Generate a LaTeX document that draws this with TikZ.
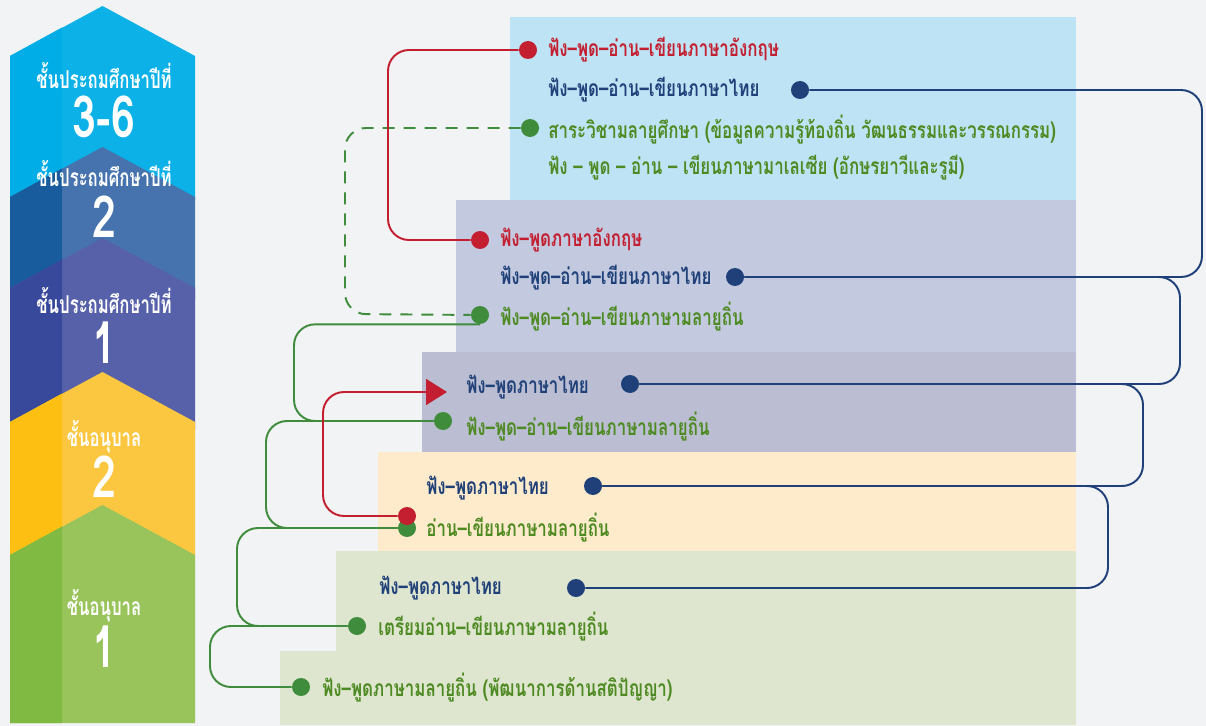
\documentclass[tikz,border=0pt]{standalone}
\usepackage{fontspec}
\newfontfamily\thai[Script=Thai,FakeStretch=0.74]{Loma}
\newfontfamily\thaigrade[Script=Thai,FakeStretch=0.68]{Loma}
\usetikzlibrary{arrows.meta}

\definecolor{bgGray}{HTML}{F2F3F4}
\definecolor{lineRed}{HTML}{C41F30}
\definecolor{lineNavy}{HTML}{1F4079}
\definecolor{lineGreen}{HTML}{3F8C3C}
\definecolor{txtGreen}{HTML}{4E8A22}
\definecolor{pBlue}{HTML}{BEE3F4}
\definecolor{pLav}{HTML}{C3CAE0}
\definecolor{pGray}{HTML}{BBBED2}
\definecolor{pOrange}{HTML}{FEEBCB}
\definecolor{pGreen}{HTML}{DFE6CF}
\definecolor{cCyanL}{HTML}{00ADE6}
\definecolor{cCyanR}{HTML}{0BB1E7}
\definecolor{cBlueL}{HTML}{195C9E}
\definecolor{cBlueR}{HTML}{4673AE}
\definecolor{cPurpL}{HTML}{38489B}
\definecolor{cPurpR}{HTML}{5661A9}
\definecolor{cYellL}{HTML}{FDBF12}
\definecolor{cYellR}{HTML}{FCC740}
\definecolor{cGreenL}{HTML}{80BA42}
\definecolor{cGreenR}{HTML}{98C45B}

% chevron: [left colour, right colour](peak y:bottom y)
\def\chevron[#1,#2](#3:#4){
  \fill[#2] (10,#3+50) -- (102.5,#3) -- (195,#3+50) -- (195,#4) -- (10,#4) -- cycle;
  \fill[#1] (10,#3+50) -- (62,#3+21.5) -- (62,#4) -- (10,#4) -- cycle;
}

\begin{document}
\begin{tikzpicture}[x=0.02cm,y=-0.02cm,
    item/.style={anchor=west,inner sep=0pt,font=\thai\bfseries\fontsize{13}{15}\selectfont},
    bullet/.style={circle,fill=#1,inner sep=0pt,minimum size=0.36cm},
    link/.style={line width=1.1pt,rounded corners=0.42cm,draw=#1},
    grade/.style={text=white,inner sep=0pt,font=\thaigrade\bfseries\fontsize{14}{16}\selectfont},
    gnum/.style={text=white,inner sep=0pt,font=\thai\bfseries\fontsize{33}{35}\selectfont}]

  \useasboundingbox (0,0) rectangle (1206,726);
  \fill[bgGray] (0,0) rectangle (1206,726);

  %%%%% panels %%%%%
  \fill[pBlue] (510,17) rectangle (1076,200);
  \fill[pLav] (456,200) rectangle (1076,352);
  \fill[pGray] (422,352) rectangle (1076,452);
  \fill[pOrange] (378,452) rectangle (1076,551);
  \fill[pGreen] (336,551) rectangle (1076,725);
  \fill[pGreen] (280,651) rectangle (336,725);

  %%%%% grades %%%%%
  \chevron[cCyanL,cCyanR](6:200)
  \chevron[cBlueL,cBlueR](147:300)
  \chevron[cPurpL,cPurpR](238:430)
  \chevron[cYellL,cYellR](372:560)
  \chevron[cGreenL,cGreenR](505:723)

  \node[grade] (gP3) at (104,76) {ชั้นประถมศึกษาปีที่};
  \node[gnum] (nP3) at (104,117) {3-6};
  \node[grade] (gP2) at (104,174) {ชั้นประถมศึกษาปีที่};
  \node[gnum] (nP2) at (104,217) {2};
  \node[grade] (gP1) at (104,301) {ชั้นประถมศึกษาปีที่};
  \node[gnum] (nP1) at (104,343) {1};
  \node[grade] (gK2) at (104,437) {ชั้นอนุบาล};
  \node[gnum] (nK2) at (104,477) {2};
  \node[grade] (gK1) at (104,606) {ชั้นอนุบาล};
  \node[gnum] (nK1) at (104,647) {1};

  %%%%% subjects %%%%%
  % primary 3-6
  \node[bullet=lineRed] (dEng1) at (528,50) {};
  \node[item,text=lineRed] (tEng1) at (548,50) {ฟัง–พูด–อ่าน–เขียนภาษาอังกฤษ};
  \node[item,text=lineNavy] (tTh1) at (548,90) {ฟัง–พูด–อ่าน–เขียนภาษาไทย};
  \node[bullet=lineNavy] (dTh1) at (800,90) {};
  \node[bullet=lineGreen] (dMl1) at (530,128) {};
  \node[item,text=txtGreen] (tMl1) at (548,130) {สาระวิชามลายูศึกษา (ข้อมูลความรู้ท้องถิ่น วัฒนธรรมและวรรณกรรม)};
  \node[item,text=txtGreen] (tMy1) at (548,168) {ฟัง – พูด – อ่าน – เขียนภาษามาเลเซีย (อักษรยาวีและรูมี)};
  % primary 2
  \node[bullet=lineRed] (dEng2) at (480,240) {};
  \node[item,text=lineRed] (tEng2) at (500,240) {ฟัง–พูดภาษาอังกฤษ};
  \node[item,text=lineNavy] (tTh2) at (500,278) {ฟัง–พูด–อ่าน–เขียนภาษาไทย};
  \node[bullet=lineNavy] (dTh2) at (735,277) {};
  \node[bullet=lineGreen] (dMl2) at (480,315) {};
  \node[item,text=txtGreen] (tMl2) at (500,317) {ฟัง–พูด–อ่าน–เขียนภาษามลายูถิ่น};
  % primary 1
  \coordinate (aTh3) at (447,392);
  \node[item,text=lineNavy] (tTh3) at (466,387) {ฟัง–พูดภาษาไทย};
  \node[bullet=lineNavy] (dTh3) at (630,384) {};
  \node[bullet=lineGreen] (dMl3) at (443,421) {};
  \node[item,text=txtGreen] (tMl3) at (466,427) {ฟัง–พูด–อ่าน–เขียนภาษามลายูถิ่น};
  % kindergarten 2
  \node[item,text=lineNavy] (tTh4) at (426,488) {ฟัง–พูดภาษาไทย};
  \node[bullet=lineNavy] (dTh4) at (593,486) {};
  \node[bullet=lineGreen] (dMl4) at (407,528) {};
  \node[bullet=lineRed] (dRd4) at (407,516) {};
  \node[item,text=txtGreen] (tMl4) at (426,528) {อ่าน–เขียนภาษามลายูถิ่น};
  % kindergarten 1
  \node[item,text=lineNavy] (tTh5) at (379,588) {ฟัง–พูดภาษาไทย};
  \node[bullet=lineNavy] (dTh5) at (576,588) {};
  \node[bullet=lineGreen] (dMl5) at (357,626) {};
  \node[item,text=txtGreen] (tMl5) at (378,627) {เตรียมอ่าน–เขียนภาษามลายูถิ่น};
  \node[bullet=lineGreen] (dMl6) at (301,687) {};
  \node[item,text=txtGreen] (tMl6) at (322,688) {ฟัง–พูดภาษามลายูถิ่น (พัฒนาการด้านสติปัญญา)};

  %%%%% links %%%%%
  \draw[link=lineNavy] (dTh1) -| (1202,277) -- (dTh2);
  \draw[link=lineNavy] (dTh2) -| (1180,384) -- (dTh3);
  \draw[link=lineNavy] (dTh3) -| (1143,486) -- (dTh4);
  \draw[link=lineNavy] (dTh4) -| (1108,588) -- (dTh5);

  \draw[link=lineGreen,dash pattern=on 0.24cm off 0.18cm] (dMl1) -| (345,314) -- (dMl2);
  \draw[link=lineGreen] (dMl2.south) -| (294,421) -- (dMl3);
  \draw[link=lineGreen] (dMl3) -| (266,528) -- (dMl4);
  \draw[link=lineGreen] (dMl4) -| (237,626) -- (dMl5);
  \draw[link=lineGreen] (dMl5) -| (210,687) -- (dMl6);

  \draw[link=lineRed] (dEng1) -| (388,240) -- (dEng2);
  \draw[link=lineRed,-{Triangle[length=0.42cm,width=0.52cm]}] (dRd4) -| (323,392) -- (aTh3);

\end{tikzpicture}
\end{document}
